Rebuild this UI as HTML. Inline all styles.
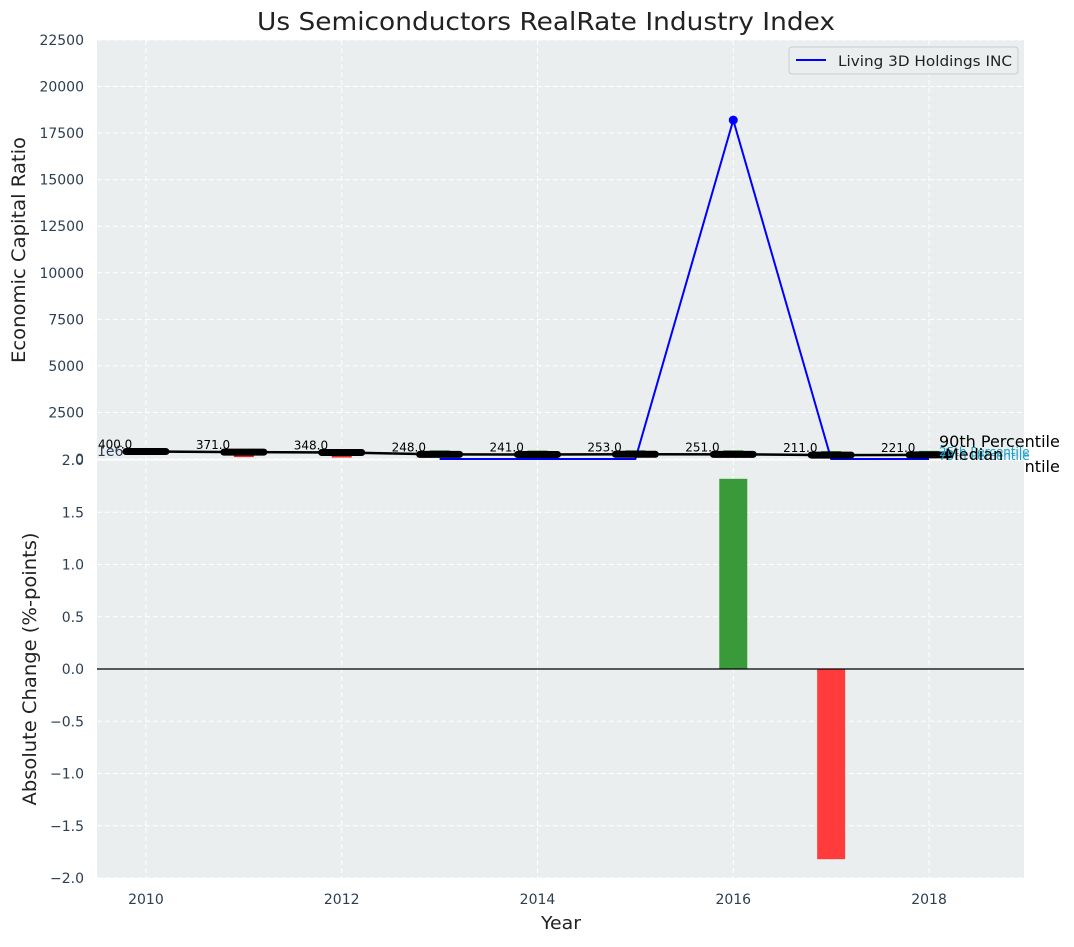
<!DOCTYPE html>
<html><head><meta charset="utf-8"><style>
body{margin:0;background:#fff;font-family:"Liberation Sans","DejaVu Sans",sans-serif}
svg text{font-family:"DejaVu Sans","Liberation Sans",sans-serif}
</style></head><body>
<svg id="c" width="1074" height="942" xmlns="http://www.w3.org/2000/svg"></svg>
<script>
const years=[2010,2011,2012,2013,2014,2015,2016,2017,2018];
const companyYears=[2013,2014,2015,2016,2017,2018];
const companyRatio=[0,0,0,18200,0,0];
const medianRatio=[400,371,348,248,241,253,251,211,221];
const changeSmall=[0,-1,-1,1,1,1,1,1,1];
const absChange=[0,0,0,0,0,0,1.82,-1.82,0];
const topTicks=[0,2500,5000,7500,10000,12500,15000,17500,20000,22500];
const botTicks=[-2,-1.5,-1,-0.5,0,0.5,1,1.5,2];
const xTicks=[2010,2012,2014,2016,2018];

const svg=document.getElementById('c');const NS='http://www.w3.org/2000/svg';
function el(t,a,p){const e=document.createElementNS(NS,t);for(const k in a)e.setAttribute(k,a[k]);(p||svg).appendChild(e);return e;}
const L=97,R=1024,T1=40,B1=459,T2=460,B2=878;
const x=v=>L+(v-2009.5)*(R-L)/9.47;
const y1=v=>B1-v*(B1-T1)/22500;
const y2=v=>T2+(2-v)*(B2-T2)/4;

let e;
e=el('rect',{x:L,y:T1,width:R-L,height:B1-T1,fill:'#eaeeef'});

e=el('text',{x:939,y:472,'font-size':16,fill:'#000'});e.textContent='10th Percentile';

e=el('rect',{x:L,y:T2,width:R-L,height:B2-T2,fill:'#eaeeef'});

el('rect',{x:L,y:T2-1,width:R-L,height:1.5,fill:'#fff'});

topTicks.forEach(t=>{
 el('line',{x1:L,x2:R,y1:y1(t),y2:y1(t),stroke:'#fff','stroke-dasharray':'5,3','stroke-width':1});
 e=el('text',{x:84,y:y1(t)+5,'text-anchor':'end','font-size':14,fill:'#2c3e50'});e.textContent=t;
 
});
botTicks.forEach(t=>{
 el('line',{x1:L,x2:R,y1:y2(t),y2:y2(t),stroke:'#fff','stroke-dasharray':'5,3','stroke-width':1});
 e=el('text',{x:84,y:y2(t)+5,'text-anchor':'end','font-size':14,fill:'#2c3e50'});e.textContent=t.toFixed(1).replace('-','\u2212');
 
});
xTicks.forEach(t=>{
 el('line',{x1:x(t),x2:x(t),y1:T1,y2:B1,stroke:'#fff','stroke-dasharray':'5,3'});
 el('line',{x1:x(t),x2:x(t),y1:T2,y2:B2,stroke:'#fff','stroke-dasharray':'5,3'});
 e=el('text',{x:x(t),y:904,'text-anchor':'middle','font-size':14,fill:'#2c3e50'});e.textContent=t;
 
});
years.forEach((yr,i)=>{
 const v=changeSmall[i];if(!v)return;const c=v>0?'#2a8a2a':'#e22';
 const yy=y1(medianRatio[i]);
 e=el('rect',{x:x(yr)-10,y:v>0?yy-4:yy+2,width:20,height:3,fill:c});
 
});
e=el('polyline',{points:companyYears.map((yr,i)=>x(yr)+','+y1(companyRatio[i])).join(' '),fill:'none',stroke:'#00f','stroke-width':2});

e=el('polyline',{points:years.map((yr,i)=>x(yr)+','+y1(medianRatio[i])).join(' '),fill:'none',stroke:'#000','stroke-width':2.5});

years.forEach((yr,i)=>{
 e=el('line',{x1:x(yr)-20,x2:x(yr)+20,y1:y1(medianRatio[i]),y2:y1(medianRatio[i]),stroke:'#000','stroke-width':7,'stroke-linecap':'round'});
 
 e=el('text',{x:x(yr)-48,y:y1(medianRatio[i])-3,'font-size':12,fill:'#000'});e.textContent=medianRatio[i].toFixed(1);
 
});
const mi=companyRatio.indexOf(Math.max(...companyRatio));
e=el('circle',{cx:x(companyYears[mi]),cy:y1(companyRatio[mi]),r:4.5,fill:'#00f'});

years.forEach((yr,i)=>{
 const v=absChange[i];if(!v)return;
 e=el('rect',{x:x(yr)-14,y:Math.min(y2(v),y2(0)),width:28,height:Math.abs(y2(v)-y2(0)),fill:v>0?'#3a9a3a':'#ff3b3b'});
 
});
el('line',{x1:L,x2:R,y1:y2(0),y2:y2(0),stroke:'#000','stroke-width':1.2});
[['90th Percentile',939,447,16,'#000'],['25th Percentile',939,456,12,'#1aa3c8'],['75th Percentile',939,460,12,'#1aa3c8'],['Median',945,460,16,'#000']].forEach(a=>{
 e=el('text',{x:a[1],y:a[2],'font-size':a[3],fill:a[4]});e.textContent=a[0];
 
});
e=el('text',{x:97,y:456,'font-size':14,fill:'#2c3e50'});e.textContent='1e6';

e=el('text',{x:546,y:30,'text-anchor':'middle','font-size':25,fill:'#222',textLength:578,lengthAdjust:'spacingAndGlyphs'});e.textContent='Us Semiconductors RealRate Industry Index';

e=el('text',{x:561,y:929,'text-anchor':'middle','font-size':18,fill:'#222',textLength:40,lengthAdjust:'spacingAndGlyphs'});e.textContent='Year';

e=el('text',{x:0,y:0,'text-anchor':'middle','font-size':19,fill:'#222',textLength:226,lengthAdjust:'spacingAndGlyphs',transform:'translate(25,250) rotate(-90)'});e.textContent='Economic Capital Ratio';

e=el('text',{x:0,y:0,'text-anchor':'middle','font-size':19,fill:'#222',textLength:273,lengthAdjust:'spacingAndGlyphs',transform:'translate(36,669) rotate(-90)'});e.textContent='Absolute Change (%-points)';

const g=el('g',{});
el('rect',{x:789,y:47,width:229,height:27,rx:3,fill:'#eaeeef',stroke:'#ccc'},g);
el('line',{x1:796,x2:826,y1:60,y2:60,stroke:'#00f','stroke-width':2},g);
e=el('text',{x:838,y:66,'font-size':14,fill:'#222',textLength:174,lengthAdjust:'spacingAndGlyphs'},g);e.textContent='Living 3D Holdings INC';

</script>
</body></html>
